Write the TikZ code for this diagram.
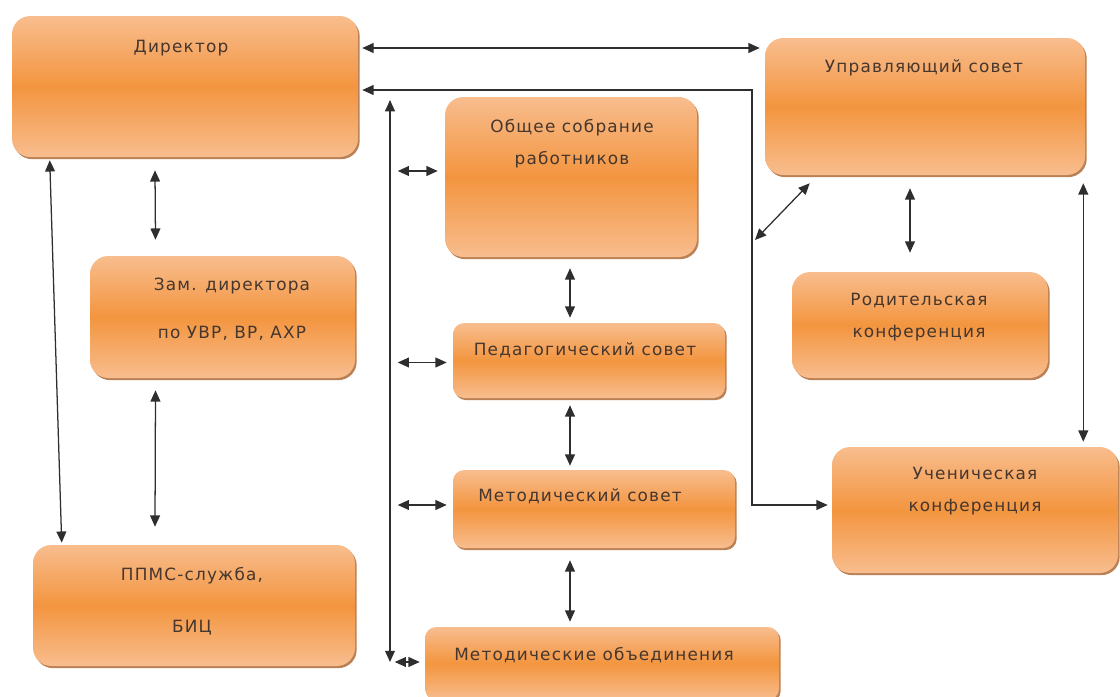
\documentclass[tikz,border=0pt]{standalone}
\usepackage{fontspec}
\setmainfont[LetterSpace=7]{DejaVu Sans}
\usetikzlibrary{arrows.meta,calc,fit,shadows}

\definecolor{orlight}{HTML}{F8BD8E}
\definecolor{ormid}{HTML}{F3953F}
\definecolor{orshadow}{HTML}{A8612A}
\definecolor{txtgray}{HTML}{45362E}
\definecolor{linegray}{HTML}{2E2E2E}

\tikzset{
	unit/.style={rounded corners=13pt, inner sep=0pt, draw=none,
		top color=orlight, bottom color=orlight, middle color=ormid,
		drop shadow={shadow xshift=1.2pt, shadow yshift=-1.5pt, fill=orshadow, opacity=0.8}},
	smallunit/.style={unit, rounded corners=8pt},
	lbl/.style={text=txtgray, font=\fontsize{12}{22.5}\selectfont, align=center, inner sep=0pt},
	dbl/.style={{Triangle[length=8pt,width=7pt]}-{Triangle[length=8pt,width=7pt]}, draw=linegray, line width=0.9pt},
}

\begin{document}
\begin{tikzpicture}[x=0.025cm, y=-0.025cm]
	\useasboundingbox (0,0) rectangle (1120,697);
	
	% boxes
	\node[unit, fit={(12,16) (358,157)}] (dir) {};
	\node[unit, fit={(765,38) (1085,175)}] (upr) {};
	\node[unit, fit={(445,97) (697,257)}] (obs) {};
	\node[unit, fit={(90,256) (355,378)}] (zam) {};
	\node[smallunit, fit={(453,323) (725,398)}] (ped) {};
	\node[unit, fit={(792,272) (1048,378)}] (rod) {};
	\node[smallunit, fit={(453,470) (735,548)}] (met) {};
	\node[unit, fit={(832,447) (1118,573)}] (uch) {};
	\node[unit, fit={(33,545) (355,666)}] (ppms) {};
	\node[smallunit, fit={(425,627) (779,700)}] (mob) {};
	
	% texts
	\node[lbl] (t-dir) at (181,48) {Директор};
	\node[lbl] (t-upr) at (924,68) {Управляющий совет};
	\node[lbl] (t-obs) at (572,144) {Общее собрание\\работников};
	\node[lbl] (t-zam) at (232,309) {Зам. директора\\[11.5pt]по УВР, ВР, АХР};
	\node[lbl] (t-ped) at (585,350) {Педагогический совет};
	\node[lbl] (t-rod) at (919,317) {Родительская\\конференция};
	\node[lbl] (t-met) at (580,496) {Методический совет};
	\node[lbl] (t-uch) at (975,491) {Ученическая\\конференция};
	\node[lbl] (t-ppms) at (192,601) {ППМС-служба,\\[14.5pt]БИЦ};
	\node[lbl] (t-mob) at (594,655) {Методические объединения};
	
	% helper points
	\coordinate (bend1) at (752,90);
	\coordinate (bend2) at (752,505);
	\coordinate (diag) at (755,240);
	\coordinate (bus-top) at (390,100);
	\coordinate (bus-bot) at (390,662);
	
	% connectors
	\draw[dbl] ($(dir.east |- t-dir)+(4,0)$) -- ($(upr.west |- t-dir)+(-5,0)$);
	\draw[dbl] ($(dir.east |- bend1)+(4,0)$) -- (bend1) -- (bend2) -- ($(uch.west |- bend2)+(-4,0)$);
	\draw[dbl] (diag) -- ($(upr.south west)+(45,8)$);
	\draw[dbl] ($(upr.south)+(-15,13)$) -- ($(rod.north)+(-10,-19)$);
	\draw[dbl] ($(upr.south east)+(-2,8)$) -- ($(uch.north east)+(-35,-5)$);
	
	\draw[dbl] (bus-top) -- (bus-bot);
	\draw[dbl] ($(obs.west)+(-47,-6)$) -- ($(obs.west)+(-7,-6)$);
	\draw[dbl] ($(ped.west)+(-55,2)$) -- ($(ped.west)+(-6,2)$);
	\draw[dbl] ($(met.west)+(-55,-4)$) -- ($(met.west)+(-6,-4)$);
	\draw[dbl] ($(mob.west |- bus-bot)+(-30,0)$) -- ($(mob.west |- bus-bot)+(-5,0)$);
	
	\draw[dbl] ($(dir.south)+(-30,13)$) -- ($(zam.north)+(-67,-16)$);
	\draw[dbl] ($(zam.south)+(-67,12)$) -- ($(ppms.north)+(-39,-18)$);
	\draw[dbl] ($(dir.south west)+(38,3)$) -- ($(ppms.north west)+(29,-2)$);
	
	\draw[dbl] ($(obs.south)+(-1,11)$) -- ($(ped.north)+(-19,-5)$);
	\draw[dbl] ($(ped.south)+(-19,7)$) -- ($(met.north)+(-24,-4)$);
	\draw[dbl] ($(met.south)+(-24,12)$) -- ($(mob.north)+(-32,-5)$);
	
\end{tikzpicture}
\end{document}
